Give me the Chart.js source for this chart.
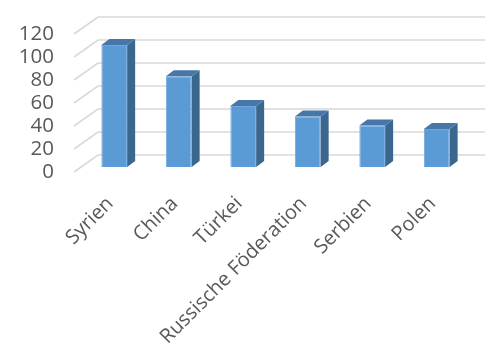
<!DOCTYPE html>
<html>

<head>
    <meta charset="UTF-8">
    <title>Herkunftsländer</title>
    <script src="https://cdn.jsdelivr.net/npm/chart.js"></script>
    <style>
        body {
            margin: 0;
            background: #ffffff;
        }
    </style>
</head>

<body>
    <canvas id="myChart" width="490" height="347"></canvas>

    <script>
        const countries = ['Syrien', 'China', 'Türkei', 'Russische Föderation', 'Serbien', 'Polen'];
        const values = [106, 79, 53, 44, 36, 33];
        const yTicks = [0, 20, 40, 60, 80, 100, 120];

        // depth of the back wall and position/depth of the bars (px)
        const wallDx = 23, wallDy = -17;
        const barOffX = 7, barOffY = -5;
        const barDx = 8, barDy = -6;

        const fake3d = {
            id: 'fake3d',
            beforeDatasetsDraw(chart) {
                const ctx = chart.ctx;
                const area = chart.chartArea;
                const y = chart.scales.y;
                ctx.save();
                ctx.strokeStyle = '#d9d9d9';
                ctx.lineWidth = 1.6;
                yTicks.forEach(v => {
                    const py = y.getPixelForValue(v);
                    ctx.beginPath();
                    ctx.moveTo(area.left - 1, py);
                    ctx.lineTo(area.left + wallDx, py + wallDy);
                    ctx.lineTo(area.right + wallDx, py + wallDy);
                    ctx.stroke();
                });
                ctx.restore();
                ctx.save();
                ctx.translate(barOffX, barOffY);
            },
            afterDatasetsDraw(chart) {
                const ctx = chart.ctx;
                const bars = chart.getDatasetMeta(0).data;
                bars.forEach(b => {
                    const l = b.x - b.width / 2;
                    const r = b.x + b.width / 2;
                    // side
                    ctx.fillStyle = '#3b6690';
                    ctx.beginPath();
                    ctx.moveTo(r, b.y);
                    ctx.lineTo(r + barDx, b.y + barDy);
                    ctx.lineTo(r + barDx, b.base + barDy);
                    ctx.lineTo(r, b.base);
                    ctx.closePath();
                    ctx.fill();
                    // top
                    ctx.fillStyle = '#4677a8';
                    ctx.beginPath();
                    ctx.moveTo(l, b.y);
                    ctx.lineTo(l + barDx, b.y + barDy);
                    ctx.lineTo(r + barDx, b.y + barDy);
                    ctx.lineTo(r, b.y);
                    ctx.closePath();
                    ctx.fill();
                });
                ctx.restore();
            }
        };

        const ctx = document.getElementById('myChart').getContext('2d');
        const myChart = new Chart(ctx, {
            type: 'bar',
            data: {
                labels: countries,
                datasets: [{
                    data: values,
                    backgroundColor: '#5b9bd5',
                    borderColor: '#6fa8dc',
                    borderWidth: 1,
                    barPercentage: 0.4,
                    categoryPercentage: 1
                }]
            },
            options: {
                responsive: false,
                animation: false,
                layout: {
                    padding: { top: 34, right: 28, left: 0, bottom: 0 }
                },
                plugins: {
                    legend: { display: false },
                    tooltip: { enabled: false }
                },
                scales: {
                    x: {
                        grid: { display: false, drawTicks: false },
                        border: { display: false },
                        ticks: {
                            minRotation: 45,
                            maxRotation: 45,
                            padding: 20,
                            labelOffset: 3,
                            color: '#595959',
                            font: { family: 'Open Sans', size: 20 }
                        },
                        afterFit: s => { s.height = 175; }
                    },
                    y: {
                        min: 0,
                        max: 120,
                        grid: { display: false, drawTicks: false },
                        border: { display: false },
                        afterBuildTicks: s => { s.ticks = yTicks.map(v => ({ value: v })); },
                        ticks: {
                            autoSkip: false,
                            padding: 21,
                            color: '#595959',
                            font: { family: 'Open Sans', size: 20.5 }
                        },
                        afterFit: s => { s.width = 75; }
                    }
                }
            },
            plugins: [fake3d]
        });
    </script>
</body>

</html>
